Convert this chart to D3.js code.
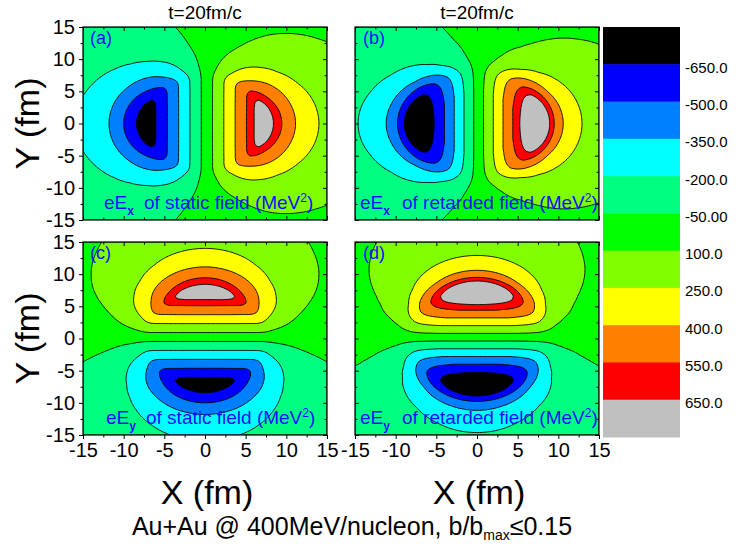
<!DOCTYPE html>
<html>
<head>
<meta charset="utf-8">
<script src="https://cdn.jsdelivr.net/npm/d3@7"></script>
<style>
  body { margin: 0; background: #fff; }
  svg { font-family: "Liberation Sans", Arial, sans-serif; }
</style>
</head>
<body>
<svg id="chart" width="747" height="544"></svg>
<script>
// |E|(r) (fm -> MeV^2)
var radii = [0, 1, 2, 3, 4, 5, 6, 6.5, 7, 7.5, 8, 8.5, 9, 10, 11, 12, 13, 14, 15, 16, 17, 18, 19, 20, 21, 22];
var staticField = [0, 108, 216, 324, 432, 540, 645, 700, 740, 745, 700, 640, 590, 500, 410, 335, 285, 250, 222, 198, 176, 157, 140, 126, 114, 104];
var retardedField = [0, 125, 250, 375, 500, 625, 720, 760, 790, 800, 785, 720, 640, 460, 360, 300, 245, 213, 192, 175, 160, 146, 134, 123, 113, 104];

// contour levels and fills (colour i is for values below levels[i])
var levels = [-650, -500, -350, -200, -50, 100, 250, 400, 550, 650];
var levelColors = ["#000000", "#0000ff", "#0080ff", "#00ffff", "#00ff80", "#00ff00",
                   "#80ff00", "#ffff00", "#ff8000", "#ff0000", "#c0c0c0"];
var levelLabels = ["-650.0", "-500.0", "-350.0", "-200.0", "-50.00", "100.0", "250.0", "400.0", "550.0", "650.0"];

var axisTicks = [-15, -10, -5, 0, 5, 10, 15];
var minorTicks = [-12.5, -7.5, -2.5, 2.5, 7.5, 12.5];

var panelTags = ["(a)", "(b)", "(c)", "(d)"];
var panelComponents = ["x", "x", "y", "y"];
var panelFields = ["static", "retarded", "static", "retarded"];

var colX = [83, 355], rowY = [27, 242],
    pw = 244, ph = 193,
    n = 150,
    blue = "#1010ff";

var svg = d3.select("#chart");

function drawPanel(k) {
  var col = k % 2, row = Math.floor(k / 2),
      x0 = colX[col], y0 = rowY[row],
      comp = panelComponents[k];

  var xScale = d3.scaleLinear().domain([-15, 15]).range([x0, x0 + pw]);
  var yScale = d3.scaleLinear().domain([-15, 15]).range([y0 + ph, y0]);
  var profile = d3.scaleLinear().domain(radii)
      .range(panelFields[k] === "static" ? staticField : retardedField).clamp(true);

  // grid of field component values, cell centres
  var values = new Array(n * n);
  for (var j = 0; j < n; j++) {
    for (var i = 0; i < n; i++) {
      var x = -15 + (i + 0.5) * 30 / n,
          y = 15 - (j + 0.5) * 30 / n,
          r = Math.sqrt(x * x + y * y);
      values[j * n + i] = r === 0 ? 0 : profile(r) * (comp === "x" ? x : y) / r;
    }
  }

  var contours = d3.contours().size([n, n]).thresholds(levels)(values);

  var gx = d3.scaleLinear().domain([0, n]).range([x0, x0 + pw]),
      gy = d3.scaleLinear().domain([0, n]).range([y0, y0 + ph]);
  var path = d3.geoPath(d3.geoTransform({
    point: function(u, v) { this.stream.point(gx(u), gy(v)); }
  }));

  svg.append("clipPath").attr("id", "clip" + k)
    .append("rect").attr("x", x0).attr("y", y0).attr("width", pw).attr("height", ph);

  var g = svg.append("g").attr("clip-path", "url(#clip" + k + ")");

  g.append("rect")
    .attr("x", x0).attr("y", y0).attr("width", pw).attr("height", ph)
    .style("fill", levelColors[0]);

  g.selectAll("path.band").data(contours)
    .enter().append("path")
    .attr("class", "band")
    .attr("d", path)
    .style("fill", function(d, i) { return levelColors[i + 1]; })
    .style("stroke", "#000")
    .style("stroke-width", 0.9)
    .style("stroke-linejoin", "round");

  // ticks: left outward, other edges inward
  function ticks(axis, size, vals, tx, ty, labels) {
    var a = axis.tickValues(vals).tickSizeInner(size).tickSizeOuter(0).tickPadding(4)
      .tickFormat(labels ? function(d) { return String(d); } : "");
    var ag = svg.append("g").attr("transform", "translate(" + tx + "," + ty + ")").call(a);
    ag.select(".domain").remove();
    ag.selectAll("line").style("stroke", "#000");
    ag.selectAll("text").style("font-size", "20px").style("fill", "#000")
      .style("font-family", "'Liberation Sans', Arial, sans-serif");
    return ag;
  }

  var bottomOut = row === 1;
  ticks(d3.axisLeft(yScale), col === 0 ? 4 : -4, axisTicks, x0, 0, col === 0);
  ticks(d3.axisLeft(yScale), col === 0 ? 2.5 : -2.5, minorTicks, x0, 0, false);
  ticks(d3.axisRight(yScale), -4, axisTicks, x0 + pw, 0, false);
  ticks(d3.axisRight(yScale), -2.5, minorTicks, x0 + pw, 0, false);
  ticks(d3.axisTop(xScale), -4, axisTicks, 0, y0, false);
  ticks(d3.axisTop(xScale), -2.5, minorTicks, 0, y0, false);
  ticks(d3.axisBottom(xScale), bottomOut ? 4 : -4, axisTicks, 0, y0 + ph, bottomOut);
  ticks(d3.axisBottom(xScale), bottomOut ? 2.5 : -2.5, minorTicks, 0, y0 + ph, false);

  svg.append("rect")
    .attr("x", x0).attr("y", y0).attr("width", pw).attr("height", ph)
    .style("fill", "none").style("stroke", "#000").style("stroke-width", 1.2);

  // panel tag
  svg.append("text")
    .attr("x", x0 + (col === 0 ? 7 : 8)).attr("y", y0 + 17)
    .style("font-size", "18px").style("fill", blue)
    .text(panelTags[k]);

  // field description
  var tx = x0 + (col === 0 ? (row === 0 ? 21 : 23) : 5),
      ofx = x0 + (col === 0 ? (row === 0 ? 61 : 63) : 47);
  var t = svg.append("text")
    .attr("x", tx).attr("y", y0 + ph - 11)
    .style("font-size", "19px").style("fill", blue);
  t.append("tspan").text("eE");
  t.append("tspan").attr("dy", 6).style("font-size", "12px").style("font-weight", "bold").text(comp);
  t.append("tspan").attr("x", ofx).attr("dy", -6).text("of " + panelFields[k] + " field (MeV");
  t.append("tspan").attr("dy", -7).style("font-size", "12px").text("2");
  t.append("tspan").attr("dy", 7).text(")");
}

for (var k = 0; k < 4; k++) drawPanel(k);

// titles
colX.forEach(function(x0) {
  svg.append("text")
    .attr("x", x0 + pw / 2).attr("y", 19)
    .style("text-anchor", "middle").style("font-size", "19px")
    .text("t=20fm/c");
  svg.append("text")
    .attr("x", x0 + pw / 2 + 2).attr("y", 504)
    .style("text-anchor", "middle").style("font-size", "34px")
    .text("X (fm)");
});

rowY.forEach(function(y0) {
  svg.append("text")
    .attr("transform", "translate(39," + (y0 + ph / 2) + ") rotate(-90)")
    .style("text-anchor", "middle").style("font-size", "34px")
    .text("Y (fm)");
});

// colour scale bar
var barY = d3.scaleBand().domain(d3.range(levelColors.length)).range([27, 437]);

svg.append("g").selectAll("rect").data(levelColors)
  .enter().append("rect")
  .attr("x", 603).attr("width", 77)
  .attr("y", function(d, i) { return barY(i); })
  .attr("height", barY.bandwidth() + 0.5)
  .style("fill", function(d) { return d; });

svg.append("g").selectAll("text").data(levelLabels)
  .enter().append("text")
  .attr("x", 685)
  .attr("y", function(d, i) { return barY(i + 1) + 8.5; })
  .style("font-size", "15px")
  .text(function(d) { return d; });

// caption
var cap = svg.append("text")
  .attr("x", 352).attr("y", 535)
  .style("text-anchor", "middle").style("font-size", "25px");
cap.append("tspan").text("Au+Au @ 400MeV/nucleon, b/b");
cap.append("tspan").attr("dy", 5).style("font-size", "14px").text("max");
cap.append("tspan").attr("dy", -5).text("\u22640.15");
</script>
</body>
</html>
